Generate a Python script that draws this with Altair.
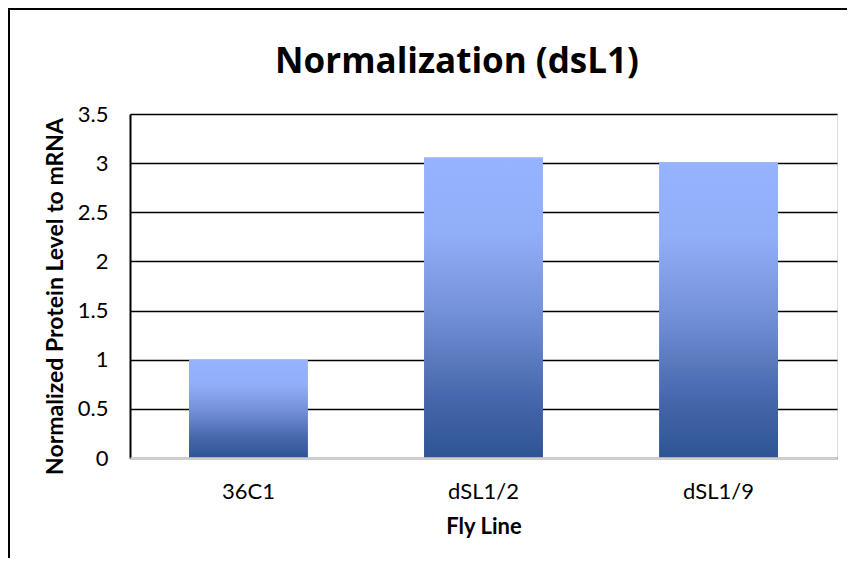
import altair as alt
import pandas as pd

categories = ["36C1", "dSL1/2", "dSL1/9"]
values = [1.0, 3.06, 3.01]
y_ticks = [0, 0.5, 1, 1.5, 2, 2.5, 3, 3.5]
y_tick_labels = ["0", "0.5", "1", "1.5", "2", "2.5", "3", "3.5"]
chart_title = "Normalization (dsL1)"

df = pd.DataFrame({"line": categories, "value": values})

FONT = "Lato"

label_expr = "{" + ",".join(f"'{t}':'{l}'" for t, l in zip(y_ticks, y_tick_labels)) + "}[datum.value]"

gradient = alt.Gradient(
    gradient="linear",
    stops=[
        alt.GradientStop(color="#95B3FF", offset=0),
        alt.GradientStop(color="#91AEF8", offset=0.25),
        alt.GradientStop(color="#7593D9", offset=0.5),
        alt.GradientStop(color="#4667AB", offset=0.8),
        alt.GradientStop(color="#2E5494", offset=1),
    ],
    x1=0, x2=0, y1=0, y2=1,
)

bars = alt.Chart(df).mark_bar(color=gradient).encode(
    x=alt.X(
        "line:N",
        sort=categories,
        scale=alt.Scale(paddingInner=0.494, paddingOuter=0.251),
        axis=alt.Axis(
            title="Fly Line",
            labelAngle=0,
            labelFont=FONT,
            labelFontSize=22,
            labelColor="black",
            labelBaseline="alphabetic",
            labelPadding=40,
            ticks=False,
            domainColor="#D0D0D0",
            domainWidth=2.5,
            titleFont=FONT,
            titleFontSize=22,
            titleFontWeight="bold",
            titleColor="black",
            titleBaseline="alphabetic",
            titleY=75,
            zindex=1,
        ),
    ),
    y=alt.Y(
        "value:Q",
        scale=alt.Scale(domain=[0, 3.5], nice=False),
        axis=alt.Axis(
            title="Normalized Protein Level to mRNA",
            values=y_ticks,
            labelExpr=label_expr,
            labelFont=FONT,
            labelFontSize=22,
            labelColor="black",
            labelPadding=22,
            ticks=False,
            domainColor="black",
            domainWidth=2,
            gridColor="black",
            gridWidth=1.6,
            titleFont=FONT,
            titleFontSize=23,
            titleFontWeight="bold",
            titleColor="black",
            titleBaseline="alphabetic",
            titleAlign="center",
            titleX=-68,
            titleY=182,
        ),
    ),
)

one = alt.Data(values=[{"t": chart_title}])

title_text = alt.Chart(one).mark_text(
    font="Open Sans", fontSize=35, fontWeight="bold", color="black",
    align="center", baseline="alphabetic",
).encode(text="t:N", x=alt.value(327), y=alt.value(-41))

border_left = alt.Chart(one).mark_rule(color="black", strokeWidth=2).encode(
    x=alt.value(-121), y=alt.value(-106), y2=alt.value(500)
)
border_top = alt.Chart(one).mark_rule(color="black", strokeWidth=2).encode(
    x=alt.value(-122), x2=alt.value(800), y=alt.value(-105)
)

chart = alt.layer(bars, title_text, border_left, border_top).properties(
    width=707,
    height=344,
    autosize=alt.AutoSizeParams(type="none"),
    padding={"left": 122, "top": 106, "right": 10, "bottom": 100},
).configure_view(stroke="black", strokeWidth=2).configure(background="white")

chart.save("out.html", embed_options={"renderer": "svg", "actions": False})
